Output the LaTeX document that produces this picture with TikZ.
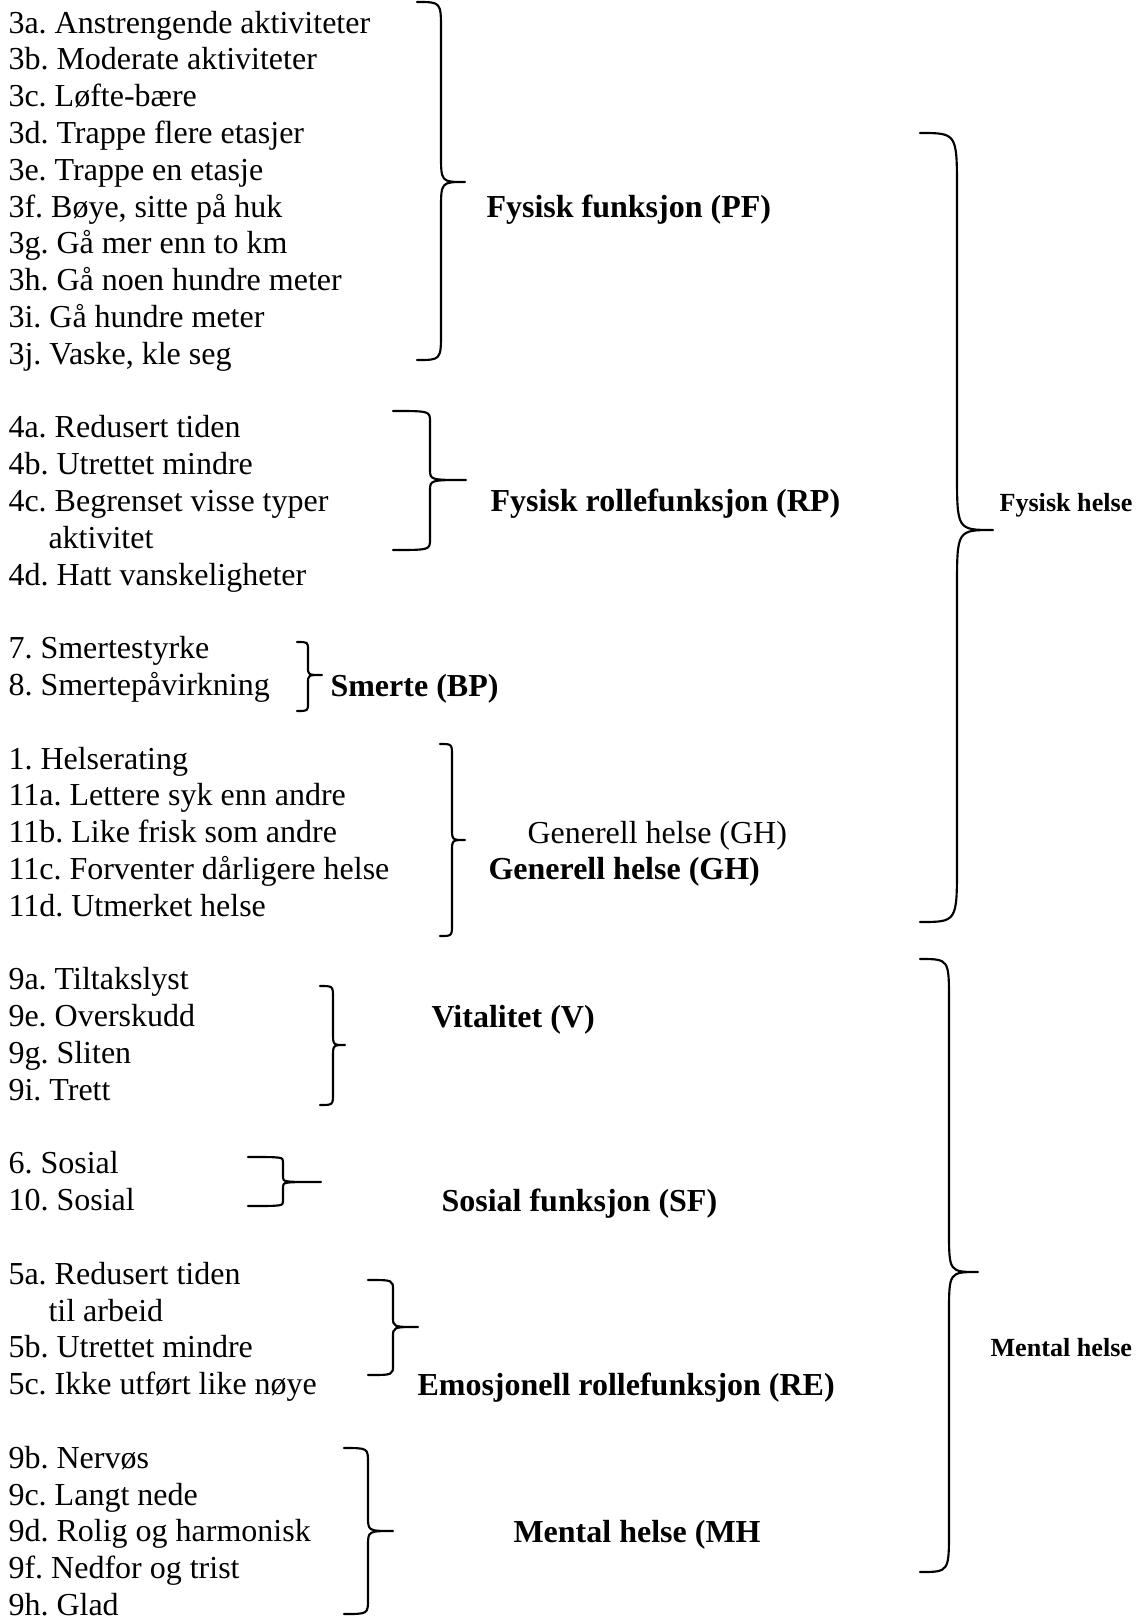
\documentclass[tikz,border=0pt,12pt]{standalone}
\usepackage{fontspec}
\setmainfont{Liberation Serif}
\usetikzlibrary{positioning}
\frenchspacing

\tikzset{
  item/.style={anchor=base west, inner sep=0pt},
  scalelbl/.style={anchor=base west, inner sep=0pt, font=\bfseries},
  sidelbl/.style={anchor=base west, inner sep=0pt, font=\fontsize{9.8}{12}\selectfont\bfseries},
  curlybrace/.style={line width=0.8pt, line join=round, line cap=round},
}

% end x, stem x, tip x, top y, tip y, bottom y, curl
\newcommand{\curly}[7]{%
  \draw[curlybrace] (#1,#4) .. controls (#2,#4) .. (#2,{#4+#7})
    -- (#2,{#5-#7}) .. controls (#2,#5) .. (#3,#5)
    .. controls (#2,#5) .. (#2,{#5+#7})
    -- (#2,{#6-#7}) .. controls (#2,#6) .. (#1,#6);}

\begin{document}
\begin{tikzpicture}[x=0.375pt, y=-0.375pt]
\useasboundingbox (0,0) rectangle (1141,1617);

\foreach \i/\t in {0/{3a. Anstrengende aktiviteter}, 1/{3b. Moderate aktiviteter},
  2/{3c. Løfte-bære}, 3/{3d. Trappe flere etasjer}, 4/{3e. Trappe en etasje},
  5/{3f. Bøye, sitte på huk}, 6/{3g. Gå mer enn to km}, 7/{3h. Gå noen hundre meter},
  8/{3i. Gå hundre meter}, 9/{3j. Vaske, kle seg},
  11/{4a. Redusert tiden}, 12/{4b. Utrettet mindre}, 13/{4c. Begrenset visse typer},
  15/{4d. Hatt vanskeligheter},
  17/{7. Smertestyrke}, 18/{8. Smertepåvirkning},
  20/{1. Helserating}, 21/{11a. Lettere syk enn andre}, 22/{11b. Like frisk som andre},
  23/{11c. Forventer dårligere helse}, 24/{11d. Utmerket helse},
  26/{9a. Tiltakslyst}, 27/{9e. Overskudd}, 28/{9g. Sliten}, 29/{9i. Trett},
  31/{6. Sosial}, 32/{10. Sosial},
  34/{5a. Redusert tiden}, 36/{5b. Utrettet mindre}, 37/{5c. Ikke utført like nøye},
  39/{9b. Nervøs}, 40/{9c. Langt nede}, 41/{9d. Rolig og harmonisk},
  42/{9f. Nedfor og trist}, 43/{9h. Glad}}
  \node[item] (q\i) at (8,{33+36.8*\i}) {\t};
\node[item] (q14) at (48,{33+36.8*14}) {aktivitet};
\node[item] (q35) at (48,{33+36.8*35}) {til arbeid};

\node[scalelbl] (pf) at (486,217) {Fysisk funksjon (PF)};
\node[scalelbl] (rp) at (490,511) {Fysisk rollefunksjon (RP)};
\node[scalelbl] (bp) at (330,696) {Smerte (BP)};
\node[item] (gh1) at (527,843) {Generell helse (GH)};
\node[scalelbl] (gh) at (488,879) {Generell helse (GH)};
\node[scalelbl] (vt) at (431,1027) {Vitalitet (V)};
\node[scalelbl] (sf) at (441,1211) {Sosial funksjon (SF)};
\node[scalelbl] (re) at (417,1395) {Emosjonell rollefunksjon (RE)};
\node[scalelbl] (mh) at (513,1542) {Mental helse (MH};

\node[sidelbl] (fh) at (999,511) {Fysisk helse};
\node[sidelbl] (mt) at (990,1356) {Mental helse};

\curly{417}{441}{465}{2}{182}{360}{28}
\curly{393}{430}{466}{411}{480}{550}{11}
\curly{297}{308}{322}{642}{675}{711}{8}
\curly{440}{452}{465}{744}{840}{936}{12}
\curly{320}{333}{345}{986}{1045}{1105}{12}
\curly{248}{283}{321}{1157}{1182}{1206}{5}
\curly{368}{393}{418}{1280}{1327}{1375}{10}
\curly{344}{368}{393}{1448}{1531}{1614}{15}
\curly{920}{957}{993}{133}{530}{922}{58}
\curly{920}{949}{978}{959}{1272}{1572}{42}
\end{tikzpicture}
\end{document}
